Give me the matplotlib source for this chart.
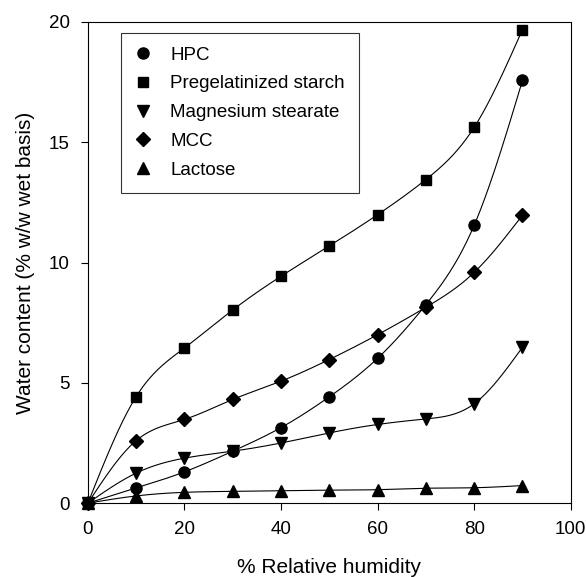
import numpy as np
import matplotlib.pyplot as plt
from matplotlib.lines import Line2D

plt.rcParams['font.family'] = ['Liberation Sans', 'DejaVu Sans']

# Data
rh = [0, 10, 20, 30, 40, 50, 60, 70, 80, 90]
hpc = [0, 0.63, 1.30, 2.16, 3.14, 4.42, 6.02, 8.25, 11.55, 17.57]
starch = [0, 4.43, 6.45, 8.03, 9.43, 10.69, 11.99, 13.45, 15.62, 19.68]
mg_stearate = [0, 1.25, 1.87, 2.16, 2.50, 2.92, 3.27, 3.50, 4.13, 6.48]
mcc = [0, 2.60, 3.48, 4.31, 5.07, 5.97, 7.00, 8.14, 9.59, 11.97]
lactose = [0, 0.30, 0.45, 0.49, 0.52, 0.54, 0.56, 0.62, 0.64, 0.73]

series = [
    ('HPC', hpc, 'o', 8),
    ('Pregelatinized starch', starch, 's', 7.5),
    ('Magnesium stearate', mg_stearate, 'v', 8.5),
    ('MCC', mcc, 'D', 7),
    ('Lactose', lactose, '^', 8.5),
]


def natural_spline(x, y, n=300):
    # natural cubic spline, only used to draw the smooth connecting line
    x = np.asarray(x, float)
    y = np.asarray(y, float)
    k = len(x)
    h = np.diff(x)
    A = np.zeros((k, k))
    b = np.zeros(k)
    A[0, 0] = A[-1, -1] = 1
    for i in range(1, k - 1):
        A[i, i - 1] = h[i - 1]
        A[i, i] = 2 * (h[i - 1] + h[i])
        A[i, i + 1] = h[i]
        b[i] = 3 * ((y[i + 1] - y[i]) / h[i] - (y[i] - y[i - 1]) / h[i - 1])
    c = np.linalg.solve(A, b)
    xs = np.linspace(x[0], x[-1], n)
    idx = np.clip(np.searchsorted(x, xs) - 1, 0, k - 2)
    dx = xs - x[idx]
    bb = (y[idx + 1] - y[idx]) / h[idx] - h[idx] * (2 * c[idx] + c[idx + 1]) / 3
    dd = (c[idx + 1] - c[idx]) / (3 * h[idx])
    ys = y[idx] + bb * dx + c[idx] * dx ** 2 + dd * dx ** 3
    return xs, ys


fig = plt.figure(figsize=(5.86, 5.77), dpi=100)
ax = fig.add_axes([0.150, 0.128, 0.824, 0.834])

handles = []
for name, vals, mk, ms in series:
    xs, ys = natural_spline(rh, vals)
    ax.plot(xs, ys, color='black', lw=0.8, clip_on=False)
    ax.plot(rh, vals, linestyle='none', marker=mk, ms=ms, color='black', clip_on=False, zorder=3)
    handles.append(Line2D([], [], linestyle='none', marker=mk, ms=ms, color='black', label=name))

ax.set_xlim(0, 100)
ax.set_ylim(0, 20)
ax.set_xticks([0, 20, 40, 60, 80, 100])
ax.set_yticks([0, 5, 10, 15, 20])
ax.tick_params(direction='out', length=5, width=0.8, labelsize=13.5, pad=8)
for s in ax.spines.values():
    s.set_linewidth(0.8)

ax.set_xlabel('% Relative humidity', fontsize=15, labelpad=14)
ax.set_ylabel('Water content (% w/w wet basis)', fontsize=15, labelpad=10)

leg = ax.legend(handles=handles, loc='upper left', bbox_to_anchor=(0.068, 0.978),
                fontsize=13.5, frameon=True, fancybox=False, handlelength=0.9,
                handletextpad=1.0, labelspacing=0.62, borderpad=0.75, borderaxespad=0)
leg.get_frame().set_edgecolor('black')
leg.get_frame().set_linewidth(0.8)

fig.savefig('out.png', dpi=100)
